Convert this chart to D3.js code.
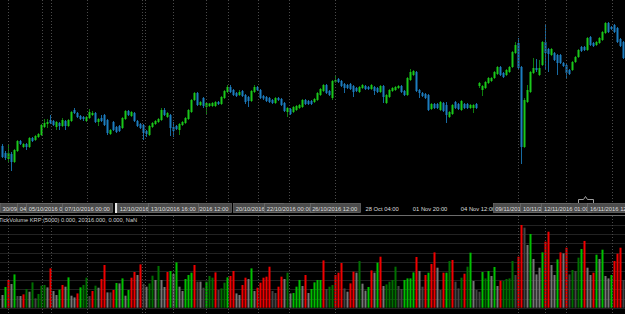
<!DOCTYPE html>
<html>
<head>
<meta charset="utf-8">
<script src="https://cdn.jsdelivr.net/npm/d3@7/dist/d3.min.js"></script>
<style>
html, body { margin: 0; padding: 0; background: #000; overflow: hidden; }
svg { display: block; }
text { font-family: "Liberation Sans", Arial, sans-serif; }
</style>
</head>
<body>
<div id="chart"></div>
<script>
// candles (price units)
var opens = [54,47,41,46,38,49,59,53,56,53, 62,60,63,65,73,76,80,79,73,77, 74,79,74,79,90,87,84,83,79,82,
    85,87,78,82,85,80,66,78,73,74, 72,81,89,84,87,79,76,75,69,65, 73,76,78,80,90,83,85,73,74,70,
    75,77,81,88,100,107,95,102,93,94, 94,94,98,96,102,108,113,110,107,105, 109,105,103,99,108,113,110,104,103,102,
    100,97,102,101,97,88,91,88,90,92, 93,100,99,99,98,100,105,109,115,109, 102,118,121,119,116,115,116,114,112,108,
    112,114,113,111,113,112,108,114,97,103, 109,110,112,114,109,105,120,125,128,110, 107,106,105,91,96,96,90,97,95,83,
    86,98,96,90,96,96,92,92,96,114, 110,112,117,119,122,126,133,127,125,128, 133,147,157,133,53,98,108,127,132,125,
    135,158,151,145,147,145,145,137,135,130, 130,138,143,153,153,150,163,157,155,157, 160,167,177,173,175,172,161,158];
var highs = [56,49,56,48,51,60,60,57,57,63, 63,65,67,76,81,81,85,80,79,78, 82,80,81,89,92,88,85,84,84,91,
    89,88,82,85,86,81,71,79,74,75, 83,90,90,89,88,80,77,76,70,75, 78,80,82,92,92,88,86,78,75,77,
    79,83,91,101,108,108,99,103,98,97, 98,99,99,104,110,115,115,111,108,110, 110,106,104,110,115,114,111,105,104,103,
    101,103,103,102,98,93,92,94,95,96, 101,101,100,100,102,108,112,116,116,110, 120,124,122,120,117,116,117,115,113,114,
    116,115,114,116,114,113,115,115,106,111, 113,114,115,115,110,123,131,130,129,111, 108,107,106,97,97,97,99,98,98,89,
    96,99,97,100,97,97,96,96,97,118, 115,119,123,123,129,134,134,128,131,134, 149,158,162,134,102,115,129,142,141,140,
    159,175,152,152,148,146,146,138,136,131, 139,144,151,154,154,163,164,158,159,163, 169,178,178,174,176,173,162,159];
var lows = [42,40,38,29,37,48,55,52,50,52, 58,59,62,64,72,72,76,74,70,70, 73,70,73,78,86,82,80,79,78,81,
    84,77,74,78,74,65,65,69,67,68, 71,80,84,83,78,73,71,60,63,64, 72,75,77,79,84,82,64,63,70,65,
    74,76,80,87,99,94,94,92,85,93, 93,93,95,95,101,107,107,104,103,104, 103,96,93,98,107,109,101,100,98,97,
    96,96,99,94,88,83,85,87,89,91, 92,95,95,95,97,99,104,108,106,104, 100,117,117,113,107,111,110,103,108,107,
    111,110,110,110,105,107,107,97,96,102, 108,109,111,107,104,104,119,124,108,102, 103,101,89,90,91,91,89,88,77,82,
    85,91,90,89,91,91,91,87,91,112, 104,111,116,118,121,125,124,122,124,127, 132,146,131,36,52,97,107,126,128,124,
    134,130,128,144,139,125,136,133,122,125, 129,137,142,148,149,149,154,153,154,156, 159,166,167,170,167,157,153,141];
var closes = [43,42,47,38,50,59,56,56,53,62, 59,64,66,75,77,78,77,75,78,74, 80,74,80,88,87,83,81,81,83,88,
    87,78,81,79,75,67,70,70,68,69, 82,89,85,88,79,74,72,67,66,74, 77,79,81,90,85,87,72,69,71,76,
    78,82,90,100,107,95,98,94,97,96.5, 97,98,96,103,109,113,108,105,104,108, 104,98,99,109,113,110,102,101.5,99,98,
    97,102,100,95,89,92,86,93,94,95, 100,96,96,96,101,107,111,115,107,105, 119,120,118,114,112,112,111,108,109,113,
    115,111,111,115,109,108,114,103,105,110, 112,113,114,108,105,122,128,129,109,107, 104,102,90,96,92,92,98,89,85,88,
    95,92,91,99,92,92,95,95,92,117, 114,118,122,122,128,133,125,123,130,133, 148,155,132,53,100,110,128,132,130,132,
    158,147,146,151,140,137,137,134,127,126, 138,143,150,149,150,162,155,154,158,162, 168,177,168,171,168,158,154,142];

// tick volume per candle and the colour class of its bar
var volumes = [3120,5090,6810,5820,8180,2870,2870,3270,4590,3930, 6220,2290,3370,5410,5580,4990,9660,4100,3120,4420,
    5580,5160,7450,2950,2530,3510,4990,5580,7370,2870, 4100,5410,4910,7050,10490,3760,3760,4350,6070,5970,
    7200,2950,4350,7370,8770,8030,10640,5900,5160,5970, 7860,6810,10250,6810,5090,8770,9020,8280,11130,5160,
    4100,7050,8030,8600,10490,6390,6390,4910,6390,7790, 7370,8670,4350,4740,6140,7450,7790,9020,3510,3120,
    5580,7370,7050,9660,4100,4910,6140,7370,7620,10070, 4100,3610,5160,7620,7050,8600,3510,3610,5160,6810,
    5330,8030,3610,4590,6220,6810,6810,11620,4590,5160, 5580,8030,8600,10980,4740,3930,5970,8850,8600,11470,
    5900,4180,5090,9160,8600,11060,12530,5330,5720,6390, 6810,10070,5330,4590,6810,7200,7200,8670,12460,9020,
    5160,8030,8600,10740,13590,9830,4350,8600,8600,11470, 11720,6390,4740,7370,8350,10070,13510,6560,4350,3930,
    8770,7200,9020,7790,10000,5330,6630,6560,7050,7200, 11470,8030,12530,20316,19660,15410,18110,11970,8180,9830,
    13590,16220,18670,10490,8030,11870,13590,13340,14740,8180, 9260,9020,12290,14420,16390,9830,8030,8600,13020,11970,
    14250,7790,7200,8030,11470,13270,14740,6810];
var volClass = ("wgrwgdwrGw GdGGGwrwwg rwgwwrgGGd rGwrrwdrgw gwgrrwrdwG GwGwwrgwgw wgggrdwdgG GrdGGgrrww" +
    " rrwgwrrrrr ddrrwGwggg wrwggggrdG GrrrdwrrwG wwgrwgrwGG GGddggggrw drgrrwdrgG rddGrGgwdd" +
    " gGgwgwrGGG Gdrrdwgwww grrwwgrwrd GdGgrwwrgw gwwgrrrd").replace(/ /g, "").split("");

// vertical grid (candle index of each dotted line)
var gridAt = [2, 13.33, 16.33, 28.33, 46.67, 47.67, 57, 67.9, 75.33, 85.33, 95.67, 110.8, 171.8, 181, 188, 203.33];

// date labels of the time strip, centred on a candle index
var tickText = ["30/09/2016 20:00", "04/10/2016 04:00", "05/10/2016 08:00", "07/10/2016 00:00",
    "12/10/2016 20:00", "13/10/2016 16:00", "18/10/2016 12:00", "20/10/2016 04:00", "22/10/2016 00:00",
    "26/10/2016 12:00", "28 Oct 04:00", "01 Nov 20:00", "04 Nov 12:00", "09/11/2016 16:00",
    "10/11/2016 12:00", "12/11/2016 01:00", "16/11/2016 12:00"];
var tickAt = [2, 13.33, 16.33, 28.33, 46.67, 57, 67.9, 85.33, 95.67, 110.8, 126.6, 142.6, 158.6, 171.8, 181, 188, 203.33];
var tickBoxed = [1,1,1,1, 1,1,1,1,1,1, 0,0,0, 1,1,1,1];
var tickUnder = [0,0,0,0, 0,0,1,0,0,0, 0,0,0, 0,0,0,0];

var volLabel = "TickVolume KRP (5000) 0.000, 20316.000, 0.000, NaN";
var volMax = 20316;

var W = 625, H = 314;
var colUp = "#1ac81a", colDown = "#1c7dbf";
var wickUp = "#0e7e0e", wickDown = "#176aa2";
var volColour = { g: "#00c000", G: "#007000", r: "#f00000", w: "#767676", d: "#444444" };
var fontSize = 5.8, boxW = 50;

var n = closes.length;
var x = d3.scaleLinear().domain([0, n - 1]).range([2.3, 623.3]);
var y = d3.scaleLinear().domain([0, 200]).range([200, 0]);
var yVol = d3.scaleLinear().domain([0, volMax]).range([307.7, 225]);

var svg = d3.select("#chart").append("svg")
        .attr("width", W)
        .attr("height", H);
svg.append("rect").attr("width", W).attr("height", H).attr("fill", "#000");

// volume panel horizontal grid
var levels = d3.range(0, 10).map(function (k) { return k * volMax / 9; });
svg.append("g").selectAll("line")
        .data(levels)
        .enter().append("line")
        .attr("x1", 0).attr("x2", W)
        .attr("y1", function (d) { return Math.round(yVol(d)) + 0.5; })
        .attr("y2", function (d) { return Math.round(yVol(d)) + 0.5; })
        .attr("stroke", "#222")
        .attr("stroke-width", 1);

var idx = d3.range(n);

// candles: wick then body
var candles = svg.append("g");
candles.selectAll("rect.wick")
        .data(idx)
        .enter().append("rect")
        .attr("class", "wick")
        .attr("x", function (i) { return Math.floor(x(i)); })
        .attr("width", 1)
        .attr("y", function (i) { return y(highs[i]); })
        .attr("height", function (i) { return Math.max(1, y(lows[i]) - y(highs[i])); })
        .attr("fill", function (i) { return closes[i] >= opens[i] ? wickUp : wickDown; });
candles.selectAll("rect.body")
        .data(idx)
        .enter().append("rect")
        .attr("class", "body")
        .attr("x", function (i) { return Math.floor(x(i)) - 0.5; })
        .attr("width", 2)
        .attr("y", function (i) { return y(Math.max(opens[i], closes[i])); })
        .attr("height", function (i) { return Math.max(1, Math.abs(y(opens[i]) - y(closes[i]))); })
        .attr("fill", function (i) { return closes[i] >= opens[i] ? colUp : colDown; });

// volume bars
svg.append("g").selectAll("rect")
        .data(idx)
        .enter().append("rect")
        .attr("x", function (i) { return Math.floor(x(i)) - 0.5; })
        .attr("width", 2)
        .attr("y", function (i) { return yVol(volumes[i]); })
        .attr("height", function (i) { return yVol(0) - yVol(volumes[i]); })
        .attr("fill", function (i) { return volColour[volClass[i]]; });

// vertical dotted grid
svg.append("g").selectAll("line")
        .data(gridAt)
        .enter().append("line")
        .attr("x1", function (d) { return Math.round(x(d)) + 0.5; })
        .attr("x2", function (d) { return Math.round(x(d)) + 0.5; })
        .attr("y1", 0).attr("y2", H)
        .attr("stroke", "#4a4a4a")
        .attr("stroke-dasharray", "1,2");

// time strip: each label centred on its date, later boxes cover earlier ones
var strip = svg.append("g");
strip.append("rect").attr("x", 0).attr("y", 202).attr("width", W).attr("height", 12).attr("fill", "#000");
var order = d3.range(tickText.length).sort(function (a, b) {
    return (tickUnder[b] - tickUnder[a]) || (a - b);
});
order.forEach(function (k) {
    var cx = x(tickAt[k]);
    var g = strip.append("g");
    if (tickBoxed[k]) {
        var x0 = Math.max(0, cx - boxW / 2);
        g.append("rect")
                .attr("x", Math.round(x0) + 0.5).attr("y", 203.5)
                .attr("width", boxW).attr("height", 9)
                .attr("fill", "#4c4c4c")
                .attr("stroke", "#707070").attr("stroke-width", 0.7);
        g.append("text")
                .attr("x", x0 + boxW / 2).attr("y", 210.6)
                .attr("text-anchor", "middle")
                .attr("font-size", fontSize)
                .attr("fill", "#dedede")
                .text(tickText[k]);
    } else {
        g.append("text")
                .attr("x", cx).attr("y", 210.6)
                .attr("text-anchor", "middle")
                .attr("font-size", fontSize)
                .attr("fill", "#dedede")
                .text(tickText[k]);
    }
});
strip.append("rect").attr("x", 115).attr("y", 203).attr("width", 2).attr("height", 10).attr("fill", "#e6e6e6");

// scroll marker above the strip
svg.append("path")
        .attr("d", "M578.5,203V199.5H583.5L585.5,196.5L587.5,199.5H593.5V203")
        .attr("fill", "none")
        .attr("stroke", "#a0a0a0")
        .attr("stroke-width", 1);

// separator and volume caption
svg.append("line")
        .attr("x1", 0).attr("x2", W)
        .attr("y1", 215.5).attr("y2", 215.5)
        .attr("stroke", "#6c6c6c");
svg.append("text")
        .attr("x", -1).attr("y", 222)
        .attr("font-size", 5.7)
        .attr("fill", "#cfcfcf")
        .text(volLabel);
</script>
</body>
</html>
